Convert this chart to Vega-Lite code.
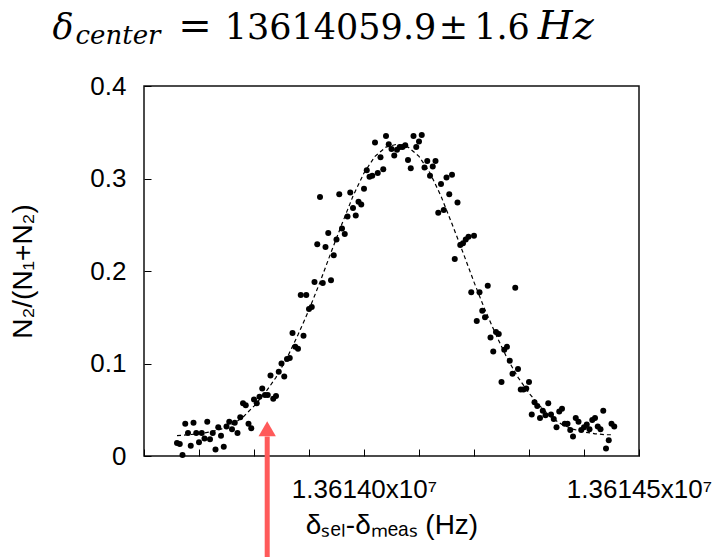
{
  "$schema": "https://vega.github.io/schema/vega-lite/v6.json",
  "width": 495,
  "height": 370,
  "autosize": {"type": "none"},
  "padding": {"left": 144, "top": 86, "right": 82, "bottom": 101},
  "background": "white",
  "config": {"view": {"stroke": "#111", "strokeWidth": 1.5}, "font": "Liberation Sans"},
  "datasets": {
    "fit": [
      {"freq": 13613660, "ratio": 0.022}, {"freq": 13613680, "ratio": 0.023}, {"freq": 13613700, "ratio": 0.024},
      {"freq": 13613720, "ratio": 0.026}, {"freq": 13613740, "ratio": 0.029}, {"freq": 13613760, "ratio": 0.034},
      {"freq": 13613780, "ratio": 0.042}, {"freq": 13613800, "ratio": 0.054}, {"freq": 13613820, "ratio": 0.068},
      {"freq": 13613840, "ratio": 0.085}, {"freq": 13613860, "ratio": 0.106}, {"freq": 13613880, "ratio": 0.131},
      {"freq": 13613900, "ratio": 0.158}, {"freq": 13613920, "ratio": 0.188}, {"freq": 13613940, "ratio": 0.220},
      {"freq": 13613960, "ratio": 0.251}, {"freq": 13613980, "ratio": 0.281}, {"freq": 13614000, "ratio": 0.306},
      {"freq": 13614020, "ratio": 0.324}, {"freq": 13614040, "ratio": 0.334}, {"freq": 13614060, "ratio": 0.337},
      {"freq": 13614080, "ratio": 0.334}, {"freq": 13614100, "ratio": 0.324}, {"freq": 13614120, "ratio": 0.306},
      {"freq": 13614140, "ratio": 0.281}, {"freq": 13614160, "ratio": 0.251}, {"freq": 13614180, "ratio": 0.220},
      {"freq": 13614200, "ratio": 0.188}, {"freq": 13614220, "ratio": 0.158}, {"freq": 13614240, "ratio": 0.131},
      {"freq": 13614260, "ratio": 0.106}, {"freq": 13614280, "ratio": 0.085}, {"freq": 13614300, "ratio": 0.068},
      {"freq": 13614320, "ratio": 0.054}, {"freq": 13614340, "ratio": 0.042}, {"freq": 13614360, "ratio": 0.034},
      {"freq": 13614380, "ratio": 0.029}, {"freq": 13614400, "ratio": 0.026}, {"freq": 13614420, "ratio": 0.024},
      {"freq": 13614440, "ratio": 0.023}, {"freq": 13614450, "ratio": 0.023}
    ],
    "points": [
      {"freq": 13613660, "ratio": 0.014}, {"freq": 13613665, "ratio": 0.013}, {"freq": 13613670, "ratio": 0.001},
      {"freq": 13613675, "ratio": 0.035}, {"freq": 13613680, "ratio": 0.025}, {"freq": 13613685, "ratio": 0.011},
      {"freq": 13613690, "ratio": 0.036}, {"freq": 13613695, "ratio": 0.025}, {"freq": 13613700, "ratio": 0.015},
      {"freq": 13613705, "ratio": 0.025}, {"freq": 13613710, "ratio": 0.019}, {"freq": 13613715, "ratio": 0.037},
      {"freq": 13613720, "ratio": 0.018}, {"freq": 13613725, "ratio": 0.025}, {"freq": 13613730, "ratio": 0.007},
      {"freq": 13613735, "ratio": 0.031}, {"freq": 13613740, "ratio": 0.022}, {"freq": 13613745, "ratio": 0.010},
      {"freq": 13613750, "ratio": 0.032}, {"freq": 13613755, "ratio": 0.037}, {"freq": 13613760, "ratio": 0.029},
      {"freq": 13613765, "ratio": 0.036}, {"freq": 13613770, "ratio": 0.025}, {"freq": 13613775, "ratio": 0.042},
      {"freq": 13613780, "ratio": 0.057}, {"freq": 13613785, "ratio": 0.055}, {"freq": 13613790, "ratio": 0.035},
      {"freq": 13613795, "ratio": 0.030}, {"freq": 13613800, "ratio": 0.061}, {"freq": 13613805, "ratio": 0.057},
      {"freq": 13613810, "ratio": 0.064}, {"freq": 13613815, "ratio": 0.073}, {"freq": 13613820, "ratio": 0.066},
      {"freq": 13613825, "ratio": 0.066}, {"freq": 13613830, "ratio": 0.087}, {"freq": 13613835, "ratio": 0.062},
      {"freq": 13613840, "ratio": 0.065}, {"freq": 13613845, "ratio": 0.091}, {"freq": 13613850, "ratio": 0.100},
      {"freq": 13613855, "ratio": 0.086}, {"freq": 13613860, "ratio": 0.105}, {"freq": 13613865, "ratio": 0.106},
      {"freq": 13613870, "ratio": 0.133}, {"freq": 13613875, "ratio": 0.118}, {"freq": 13613880, "ratio": 0.116},
      {"freq": 13613885, "ratio": 0.174}, {"freq": 13613890, "ratio": 0.130}, {"freq": 13613895, "ratio": 0.174},
      {"freq": 13613900, "ratio": 0.159}, {"freq": 13613905, "ratio": 0.161}, {"freq": 13613910, "ratio": 0.188},
      {"freq": 13613915, "ratio": 0.229}, {"freq": 13613920, "ratio": 0.280}, {"freq": 13613925, "ratio": 0.187},
      {"freq": 13613930, "ratio": 0.226}, {"freq": 13613935, "ratio": 0.241}, {"freq": 13613940, "ratio": 0.190},
      {"freq": 13613945, "ratio": 0.217}, {"freq": 13613950, "ratio": 0.234}, {"freq": 13613955, "ratio": 0.283},
      {"freq": 13613960, "ratio": 0.246}, {"freq": 13613965, "ratio": 0.240}, {"freq": 13613970, "ratio": 0.259},
      {"freq": 13613975, "ratio": 0.285}, {"freq": 13613980, "ratio": 0.268}, {"freq": 13613985, "ratio": 0.260},
      {"freq": 13613990, "ratio": 0.275}, {"freq": 13613995, "ratio": 0.272}, {"freq": 13614000, "ratio": 0.289},
      {"freq": 13614005, "ratio": 0.309}, {"freq": 13614010, "ratio": 0.302}, {"freq": 13614015, "ratio": 0.303},
      {"freq": 13614020, "ratio": 0.339}, {"freq": 13614025, "ratio": 0.306}, {"freq": 13614030, "ratio": 0.323},
      {"freq": 13614035, "ratio": 0.310}, {"freq": 13614040, "ratio": 0.346}, {"freq": 13614045, "ratio": 0.337},
      {"freq": 13614050, "ratio": 0.332}, {"freq": 13614055, "ratio": 0.325}, {"freq": 13614060, "ratio": 0.331},
      {"freq": 13614065, "ratio": 0.334}, {"freq": 13614070, "ratio": 0.334}, {"freq": 13614075, "ratio": 0.336},
      {"freq": 13614080, "ratio": 0.320}, {"freq": 13614085, "ratio": 0.311}, {"freq": 13614090, "ratio": 0.346},
      {"freq": 13614095, "ratio": 0.334}, {"freq": 13614100, "ratio": 0.340}, {"freq": 13614105, "ratio": 0.347},
      {"freq": 13614110, "ratio": 0.312}, {"freq": 13614115, "ratio": 0.319}, {"freq": 13614120, "ratio": 0.303},
      {"freq": 13614125, "ratio": 0.313}, {"freq": 13614130, "ratio": 0.319}, {"freq": 13614135, "ratio": 0.263},
      {"freq": 13614140, "ratio": 0.294}, {"freq": 13614145, "ratio": 0.266}, {"freq": 13614150, "ratio": 0.301},
      {"freq": 13614155, "ratio": 0.283}, {"freq": 13614160, "ratio": 0.304}, {"freq": 13614165, "ratio": 0.213},
      {"freq": 13614170, "ratio": 0.274}, {"freq": 13614175, "ratio": 0.228}, {"freq": 13614180, "ratio": 0.230},
      {"freq": 13614185, "ratio": 0.234}, {"freq": 13614190, "ratio": 0.237}, {"freq": 13614195, "ratio": 0.177},
      {"freq": 13614200, "ratio": 0.238}, {"freq": 13614205, "ratio": 0.146}, {"freq": 13614210, "ratio": 0.177},
      {"freq": 13614215, "ratio": 0.157}, {"freq": 13614220, "ratio": 0.150}, {"freq": 13614225, "ratio": 0.184},
      {"freq": 13614230, "ratio": 0.128}, {"freq": 13614235, "ratio": 0.113}, {"freq": 13614240, "ratio": 0.134},
      {"freq": 13614245, "ratio": 0.132}, {"freq": 13614250, "ratio": 0.080}, {"freq": 13614255, "ratio": 0.115},
      {"freq": 13614260, "ratio": 0.118}, {"freq": 13614265, "ratio": 0.103}, {"freq": 13614270, "ratio": 0.089},
      {"freq": 13614275, "ratio": 0.182}, {"freq": 13614280, "ratio": 0.094}, {"freq": 13614285, "ratio": 0.072},
      {"freq": 13614290, "ratio": 0.072}, {"freq": 13614295, "ratio": 0.073}, {"freq": 13614300, "ratio": 0.080},
      {"freq": 13614305, "ratio": 0.045}, {"freq": 13614310, "ratio": 0.058}, {"freq": 13614315, "ratio": 0.054},
      {"freq": 13614320, "ratio": 0.041}, {"freq": 13614325, "ratio": 0.049}, {"freq": 13614330, "ratio": 0.044},
      {"freq": 13614335, "ratio": 0.057}, {"freq": 13614340, "ratio": 0.045}, {"freq": 13614345, "ratio": 0.040},
      {"freq": 13614350, "ratio": 0.031}, {"freq": 13614355, "ratio": 0.048}, {"freq": 13614360, "ratio": 0.051},
      {"freq": 13614365, "ratio": 0.035}, {"freq": 13614370, "ratio": 0.035}, {"freq": 13614375, "ratio": 0.028},
      {"freq": 13614380, "ratio": 0.021}, {"freq": 13614385, "ratio": 0.041}, {"freq": 13614390, "ratio": 0.037},
      {"freq": 13614395, "ratio": 0.028}, {"freq": 13614400, "ratio": 0.031}, {"freq": 13614405, "ratio": 0.034},
      {"freq": 13614410, "ratio": 0.029}, {"freq": 13614415, "ratio": 0.039}, {"freq": 13614420, "ratio": 0.041},
      {"freq": 13614425, "ratio": 0.032}, {"freq": 13614430, "ratio": 0.029}, {"freq": 13614435, "ratio": 0.049},
      {"freq": 13614440, "ratio": 0.008}, {"freq": 13614445, "ratio": 0.017}, {"freq": 13614450, "ratio": 0.035},
      {"freq": 13614455, "ratio": 0.032}
    ]
  },
  "layer": [
    {
      "data": {"name": "fit"},
      "mark": {"type": "line", "color": "#000", "strokeWidth": 1.2, "strokeDash": [4, 3]},
      "encoding": {
        "x": {
          "field": "freq", "type": "quantitative",
          "scale": {"domain": [13613600, 13614500], "nice": false, "zero": false},
          "axis": {
            "title": "δₛₑₗ-δₘₑₐₛ (Hz)",
            "values": [13613600, 13613700, 13613800, 13613900, 13614000, 13614100, 13614200, 13614300, 13614400, 13614500],
            "labelExpr": "datum.value == 13614000 ? '1.36140x10⁷' : (datum.value == 13614500 ? '1.36145x10⁷' : '')",
            "tickSize": -7, "tickColor": "#000", "tickWidth": 1, "domain": false, "grid": false,
            "labelFont": "Liberation Sans", "labelFontSize": 26, "labelColor": "#000", "labelPadding": 27,
            "labelFlush": false, "labelOverlap": false, "labelBound": false,
            "titleFont": "Liberation Sans", "titleFontSize": 28, "titleFontWeight": "normal", "titleColor": "#000", "titlePadding": 9
          }
        },
        "y": {
          "field": "ratio", "type": "quantitative",
          "scale": {"domain": [0, 0.4], "nice": false, "zero": false},
          "axis": {
            "title": "N₂/(N₁+N₂)",
            "values": [0, 0.1, 0.2, 0.3, 0.4],
            "format": "~g",
            "tickSize": -7, "tickColor": "#000", "tickWidth": 1, "domain": false, "grid": false,
            "labelFont": "Liberation Sans", "labelFontSize": 26, "labelColor": "#000", "labelPadding": 25,
            "labelFlush": false, "labelOverlap": false, "labelBound": false,
            "titleFont": "Liberation Sans", "titleFontSize": 28, "titleFontWeight": "normal", "titleColor": "#000", "titlePadding": 52
          }
        }
      }
    },
    {
      "data": {"name": "points"},
      "mark": {"type": "circle", "color": "#000", "size": 36, "opacity": 1},
      "encoding": {
        "x": {"field": "freq", "type": "quantitative"},
        "y": {"field": "ratio", "type": "quantitative"}
      }
    },
    {
      "data": {"values": [{}]},
      "mark": {"type": "rule", "color": "#ff5a5a", "strokeWidth": 5},
      "encoding": {"x": {"datum": 13613824, "type": "quantitative"}, "y": {"datum": 0.021, "type": "quantitative"}, "y2": {"datum": -0.12}}
    },
    {
      "data": {"values": [{}]},
      "mark": {"type": "point", "shape": "triangle-up", "filled": true, "color": "#ff5a5a", "size": 300, "opacity": 1},
      "encoding": {"x": {"datum": 13613824, "type": "quantitative"}, "y": {"datum": 0.0295, "type": "quantitative"}}
    },
    {
      "data": {"values": [{}]},
      "mark": {"type": "text", "text": "δ", "font": "DejaVu Serif", "fontStyle": "italic", "fontSize": 35, "align": "center", "baseline": "alphabetic", "color": "#000"},
      "encoding": {"x": {"datum": 13613452.7, "type": "quantitative"}, "y": {"datum": 0.4508, "type": "quantitative"}}
    },
    {
      "data": {"values": [{}]},
      "mark": {"type": "text", "text": "center", "font": "DejaVu Serif", "fontStyle": "italic", "fontSize": 26, "align": "center", "baseline": "alphabetic", "color": "#000"},
      "encoding": {"x": {"datum": 13613552.7, "type": "quantitative"}, "y": {"datum": 0.4454, "type": "quantitative"}}
    },
    {
      "data": {"values": [{}]},
      "mark": {"type": "text", "text": "=", "font": "DejaVu Serif", "fontSize": 40, "align": "center", "baseline": "alphabetic", "color": "#000"},
      "encoding": {"x": {"datum": 13613692.7, "type": "quantitative"}, "y": {"datum": 0.4508, "type": "quantitative"}}
    },
    {
      "data": {"values": [{}]},
      "mark": {"type": "text", "text": "13614059.9", "font": "DejaVu Serif", "fontSize": 35, "align": "center", "baseline": "alphabetic", "color": "#000"},
      "encoding": {"x": {"datum": 13613939.1, "type": "quantitative"}, "y": {"datum": 0.4508, "type": "quantitative"}}
    },
    {
      "data": {"values": [{}]},
      "mark": {"type": "text", "text": "±", "font": "DejaVu Serif", "fontSize": 35, "align": "center", "baseline": "alphabetic", "color": "#000"},
      "encoding": {"x": {"datum": 13614162.7, "type": "quantitative"}, "y": {"datum": 0.4508, "type": "quantitative"}}
    },
    {
      "data": {"values": [{}]},
      "mark": {"type": "text", "text": "1.6", "font": "DejaVu Serif", "fontSize": 35, "align": "center", "baseline": "alphabetic", "color": "#000"},
      "encoding": {"x": {"datum": 13614250.9, "type": "quantitative"}, "y": {"datum": 0.4508, "type": "quantitative"}}
    },
    {
      "data": {"values": [{}]},
      "mark": {"type": "text", "text": "Hz", "font": "DejaVu Serif", "fontStyle": "italic", "fontSize": 40, "align": "center", "baseline": "alphabetic", "color": "#000"},
      "encoding": {"x": {"datum": 13614367, "type": "quantitative"}, "y": {"datum": 0.4508, "type": "quantitative"}}
    }
  ]
}
